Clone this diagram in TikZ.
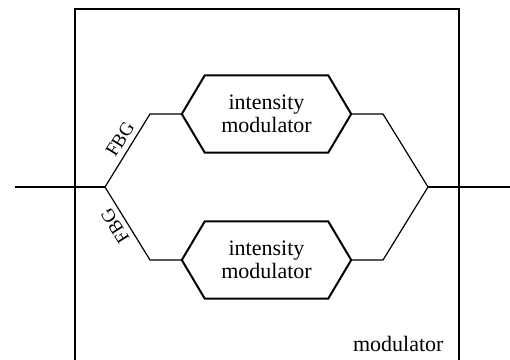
\documentclass[tikz,border=0pt]{standalone}
\usepackage{fontspec}
\setmainfont{Liberation Serif}

\begin{document}
\begin{tikzpicture}[
    x=1pt, y=-1pt,
    every node/.style={font=\fontsize{22}{23}\selectfont},
    imod/.style={minimum width=169pt, minimum height=77pt, inner sep=0pt, align=center},
    hexline/.style={line width=2pt, line join=miter},
    fbg/.style={font=\fontsize{19}{20}\selectfont, inner sep=0pt},
    fib/.style={line width=1.2pt},
  ]
  \useasboundingbox (0,0) rectangle (510,359);

  % housing, open at the bottom
  \draw[line width=2pt] (75,362) -- (75,9) -- (459,9) -- (459,362);
  \node[anchor=south east] (lbl) at (447,355) {modulator};

  \node[imod] (im1) at (266.5,114) {intensity\\modulator};
  \node[imod] (im2) at (266.5,260) {intensity\\modulator};
  \foreach \m in {im1,im2}
    \draw[hexline] (\m.west) -- ([xshift=23pt]\m.north west) -- ([xshift=-23pt]\m.north east)
      -- (\m.east) -- ([xshift=-23pt]\m.south east) -- ([xshift=23pt]\m.south west) -- cycle;

  \coordinate (in)    at (15,187);
  \coordinate (split) at (105,187);
  \coordinate (merge) at (428,187);
  \coordinate (out)   at (510,187);
  \coordinate (a1) at (150,114);
  \coordinate (a2) at (150,260);
  \coordinate (b1) at (383,114);
  \coordinate (b2) at (383,260);

  \draw[fib] (in) -- (split);
  \draw[fib] (split) -- (a1) -- (im1.west);
  \draw[fib] (split) -- (a2) -- (im2.west);
  \draw[fib] (im1.east) -- (b1) -- (merge);
  \draw[fib] (im2.east) -- (b2) -- (merge);
  \draw[fib] (merge) -- (out);

  \node[fbg, rotate=58]  (fbg1) at (120,139) {FBG};
  \node[fbg, rotate=122] (fbg2) at (115,226) {FBG};
\end{tikzpicture}
\end{document}
